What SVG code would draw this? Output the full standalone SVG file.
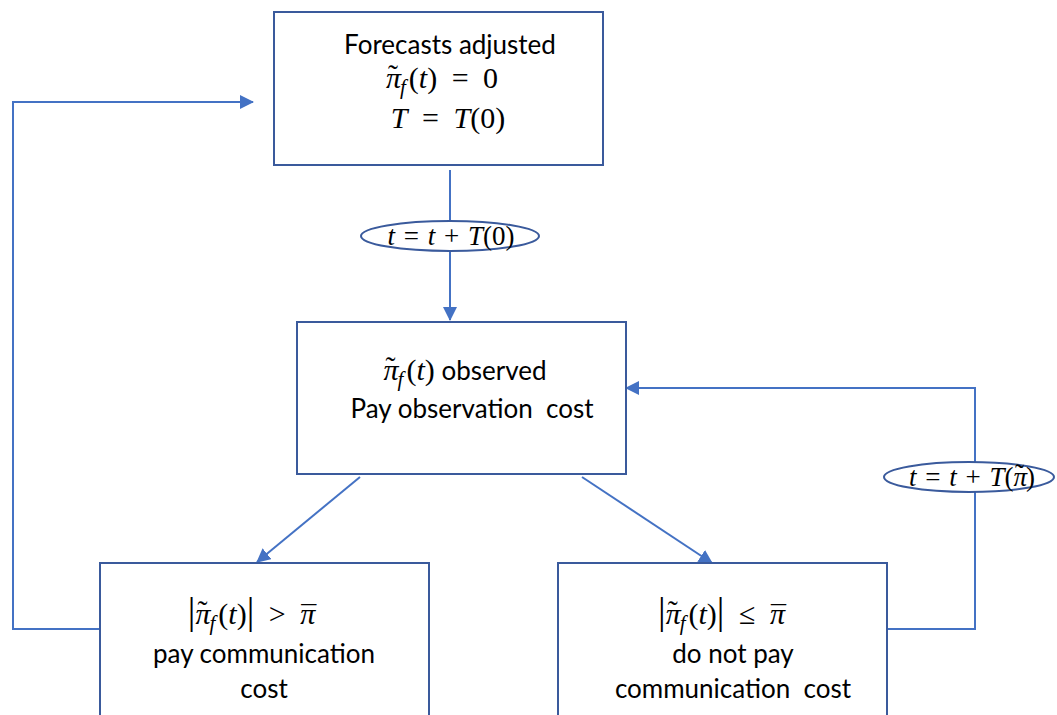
<svg xmlns="http://www.w3.org/2000/svg" width="1057" height="715" viewBox="0 0 1057 715">
<style>
.box{fill:#fff;stroke:#3A5A9C;stroke-width:2}
.ell{fill:#fff;stroke:#3A5A9C;stroke-width:2}
.ln{fill:none;stroke:#4472C4;stroke-width:2}
.t{font-family:Lato,"Open Sans",sans-serif;font-size:26px;fill:#000;text-anchor:middle}
.m{font-family:"Liberation Serif",serif;font-size:30px;fill:#000;text-anchor:middle;word-spacing:7px}
.e{font-family:"Liberation Serif",serif;font-size:27px;fill:#000;text-anchor:middle;word-spacing:2px}
.mm{font-family:"Liberation Serif",serif;font-size:30px}
.i{font-style:italic}
.s{font-size:21px;font-style:italic}
.bar{font-size:38px}
</style>
<defs>
<marker id="ar2" markerWidth="14" markerHeight="14" refX="13" refY="7" orient="auto" markerUnits="userSpaceOnUse" viewBox="0 0 14 14">
<path d="M0,0 L14,7 L0,14 z" fill="#4472C4"/>
</marker>
</defs>
<rect width="1057" height="715" fill="#fff"/>
<g id="connectors">
<line class="ln" x1="450" y1="170" x2="450" y2="320" marker-end="url(#ar2)"/>
<line class="ln" x1="360" y1="477" x2="257" y2="562" marker-end="url(#ar2)"/>
<line class="ln" x1="582" y1="477" x2="712" y2="563" marker-end="url(#ar2)"/>
<polyline class="ln" points="100,629 13,629 13,102 253,102" marker-end="url(#ar2)"/>
<polyline class="ln" points="887,629 975,629 975,388 626,388" marker-end="url(#ar2)"/>
</g>
<g id="node1">
<rect class="box" x="274" y="12" width="329" height="153"/>
<text class="t" x="450" y="54">Forecasts adjusted</text>
<text class="m" x="442" y="88"><tspan class="i">π</tspan><tspan dx="-13" dy="-3">˜</tspan><tspan class="s" dx="2" dy="9">f</tspan><tspan dx="3" dy="-6">(</tspan><tspan class="i">t</tspan>) = 0</text>
<text class="m" x="448" y="128"><tspan class="i">T</tspan> = <tspan class="i">T</tspan>(0)</text>
</g>
<g id="label1">
<ellipse class="ell" cx="450" cy="236" rx="89" ry="15"/>
<text class="e" x="451" y="245"><tspan class="i">t</tspan> = <tspan class="i">t</tspan> + <tspan class="i">T</tspan>(0)</text>
</g>
<g id="node2">
<rect class="box" x="297" y="322" width="329" height="152"/>
<text class="t" x="465" y="380"><tspan class="mm i">π</tspan><tspan class="mm" dx="-13" dy="-3">˜</tspan><tspan class="mm s" dx="2" dy="9">f</tspan><tspan class="mm" dx="3" dy="-6">(</tspan><tspan class="mm i">t</tspan><tspan class="mm">)</tspan> observed</text>
<text class="t" x="472" y="418" xml:space="preserve">Pay observation  cost</text>
</g>
<g id="node3">
<rect class="box" x="100" y="563" width="329" height="160"/>
<text class="m" x="252" y="624"><tspan class="bar">|</tspan><tspan class="i">π</tspan><tspan dx="-13" dy="-3">˜</tspan><tspan class="s" dx="2" dy="9">f</tspan><tspan dx="3" dy="-6">(</tspan><tspan class="i">t</tspan>)<tspan class="bar">|</tspan> &gt; <tspan class="i">π</tspan><tspan dx="-14" dy="2">¯</tspan></text>
<text class="t" x="264" y="663">pay communication</text>
<text class="t" x="264" y="698">cost</text>
</g>
<g id="node4">
<rect class="box" x="558" y="563" width="329" height="160"/>
<text class="m" x="722" y="624"><tspan class="bar">|</tspan><tspan class="i">π</tspan><tspan dx="-13" dy="-3">˜</tspan><tspan class="s" dx="2" dy="9">f</tspan><tspan dx="3" dy="-6">(</tspan><tspan class="i">t</tspan>)<tspan class="bar">|</tspan> ≤ <tspan class="i">π</tspan><tspan dx="-14" dy="2">¯</tspan></text>
<text class="t" x="733" y="663">do not pay</text>
<text class="t" x="733" y="698" xml:space="preserve">communication  cost</text>
</g>
<g id="label2">
<ellipse class="ell" cx="969" cy="477" rx="85" ry="15"/>
<text class="e" x="972" y="486"><tspan class="i">t</tspan> = <tspan class="i">t</tspan> + <tspan class="i">T</tspan>(<tspan class="i">π</tspan><tspan dx="-12" dy="-3">˜</tspan><tspan dx="2" dy="3">)</tspan></text>
</g>
</svg>
